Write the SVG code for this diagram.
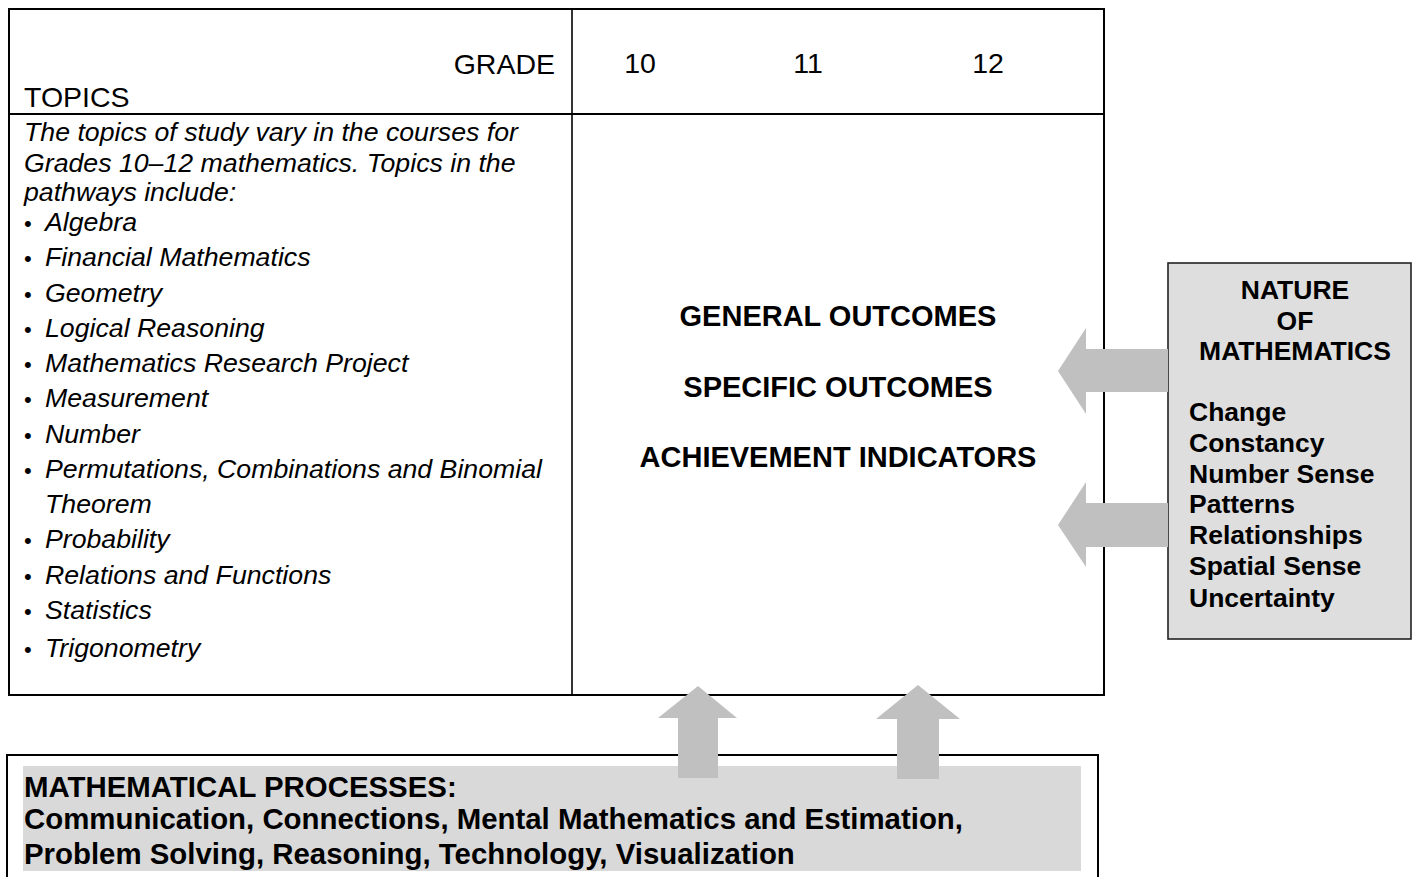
<svg xmlns="http://www.w3.org/2000/svg" width="1412" height="877" viewBox="0 0 1412 877">
<style>
.t{font-family:"Liberation Sans",Arial,sans-serif;fill:#000}
.hd{font-size:28.5px}
.it{font-size:26.7px;font-style:italic}
.bc{font-size:29px;font-weight:bold}
.nb{font-size:26.5px;font-weight:bold}
.pb{font-size:29.4px;font-weight:bold}
.ln{stroke:#000;fill:none}
.arr{fill:#c0c0c0}
</style>
<rect width="1412" height="877" fill="#fff"/>
<g id="table">
<rect x="9" y="9" width="1095" height="686" class="ln" stroke-width="2"/>
<line x1="9" y1="114" x2="1104" y2="114" class="ln" stroke-width="2"/>
<line x1="572" y1="9" x2="572" y2="695" class="ln" stroke-width="1.6"/>
<text class="t hd" x="555" y="74" text-anchor="end">GRADE</text>
<text class="t hd" x="24" y="107">TOPICS</text>
<text class="t hd" x="640" y="73" text-anchor="middle">10</text>
<text class="t hd" x="808" y="73" text-anchor="middle">11</text>
<text class="t hd" x="988" y="73" text-anchor="middle">12</text>
</g>
<g id="topics">
<text class="t it" x="24" y="141">The topics of study vary in the courses for</text>
<text class="t it" x="24" y="172">Grades 10–12 mathematics. Topics in the</text>
<text class="t it" x="24" y="201">pathways include:</text>
<g class="t it">
<text x="24" y="231"><tspan font-style="normal" font-size="22">•</tspan><tspan x="45">Algebra</tspan></text>
<text x="24" y="266"><tspan font-style="normal" font-size="22">•</tspan><tspan x="45">Financial Mathematics</tspan></text>
<text x="24" y="302"><tspan font-style="normal" font-size="22">•</tspan><tspan x="45">Geometry</tspan></text>
<text x="24" y="337"><tspan font-style="normal" font-size="22">•</tspan><tspan x="45">Logical Reasoning</tspan></text>
<text x="24" y="372"><tspan font-style="normal" font-size="22">•</tspan><tspan x="45">Mathematics Research Project</tspan></text>
<text x="24" y="407"><tspan font-style="normal" font-size="22">•</tspan><tspan x="45">Measurement</tspan></text>
<text x="24" y="443"><tspan font-style="normal" font-size="22">•</tspan><tspan x="45">Number</tspan></text>
<text x="24" y="478"><tspan font-style="normal" font-size="22">•</tspan><tspan x="45">Permutations, Combinations and Binomial</tspan></text>
<text x="45" y="513">Theorem</text>
<text x="24" y="548"><tspan font-style="normal" font-size="22">•</tspan><tspan x="45">Probability</tspan></text>
<text x="24" y="584"><tspan font-style="normal" font-size="22">•</tspan><tspan x="45">Relations and Functions</tspan></text>
<text x="24" y="619"><tspan font-style="normal" font-size="22">•</tspan><tspan x="45">Statistics</tspan></text>
<text x="24" y="657"><tspan font-style="normal" font-size="22">•</tspan><tspan x="45">Trigonometry</tspan></text>
</g>
</g>
<g id="outcomes">
<text class="t bc" x="838" y="326" text-anchor="middle">GENERAL OUTCOMES</text>
<text class="t bc" x="838" y="397" text-anchor="middle">SPECIFIC OUTCOMES</text>
<text class="t bc" x="838" y="467" text-anchor="middle">ACHIEVEMENT INDICATORS</text>
</g>
<g id="nature">
<rect x="1168" y="263" width="243" height="376" fill="#dedede" stroke="#222" stroke-width="1.6"/>
<g class="t nb" text-anchor="middle">
<text x="1295" y="299">NATURE</text>
<text x="1295" y="330">OF</text>
<text x="1295" y="360">MATHEMATICS</text>
</g>
<g class="t nb">
<text x="1189" y="421">Change</text>
<text x="1189" y="452">Constancy</text>
<text x="1189" y="483">Number Sense</text>
<text x="1189" y="513">Patterns</text>
<text x="1189" y="544">Relationships</text>
<text x="1189" y="575">Spatial Sense</text>
<text x="1189" y="607">Uncertainty</text>
</g>
</g>
<g id="processes">
<rect x="7" y="755" width="1091" height="130" class="ln" stroke-width="2"/>
<rect x="23" y="766" width="1058" height="105" fill="#d9d9d9"/>
<text class="t pb" x="24" y="797">MATHEMATICAL PROCESSES:</text>
<text class="t pb" x="24" y="829">Communication, Connections, Mental Mathematics and Estimation,</text>
<text class="t pb" x="24" y="864">Problem Solving, Reasoning, Technology, Visualization</text>
</g>
<g id="connectors">
<polygon class="arr" points="1168,349 1086,349 1086,328 1058,371 1086,414 1086,392 1168,392"/>
<polygon class="arr" points="1168,503 1086,503 1086,482 1058,525 1086,567 1086,547 1168,547"/>
<polygon class="arr" points="678,778 678,718 658,718 698,686 737,718 718,718 718,778"/>
<polygon class="arr" points="897,779 897,719 876,719 918,685 960,719 939,719 939,779"/>
</g>
</svg>
